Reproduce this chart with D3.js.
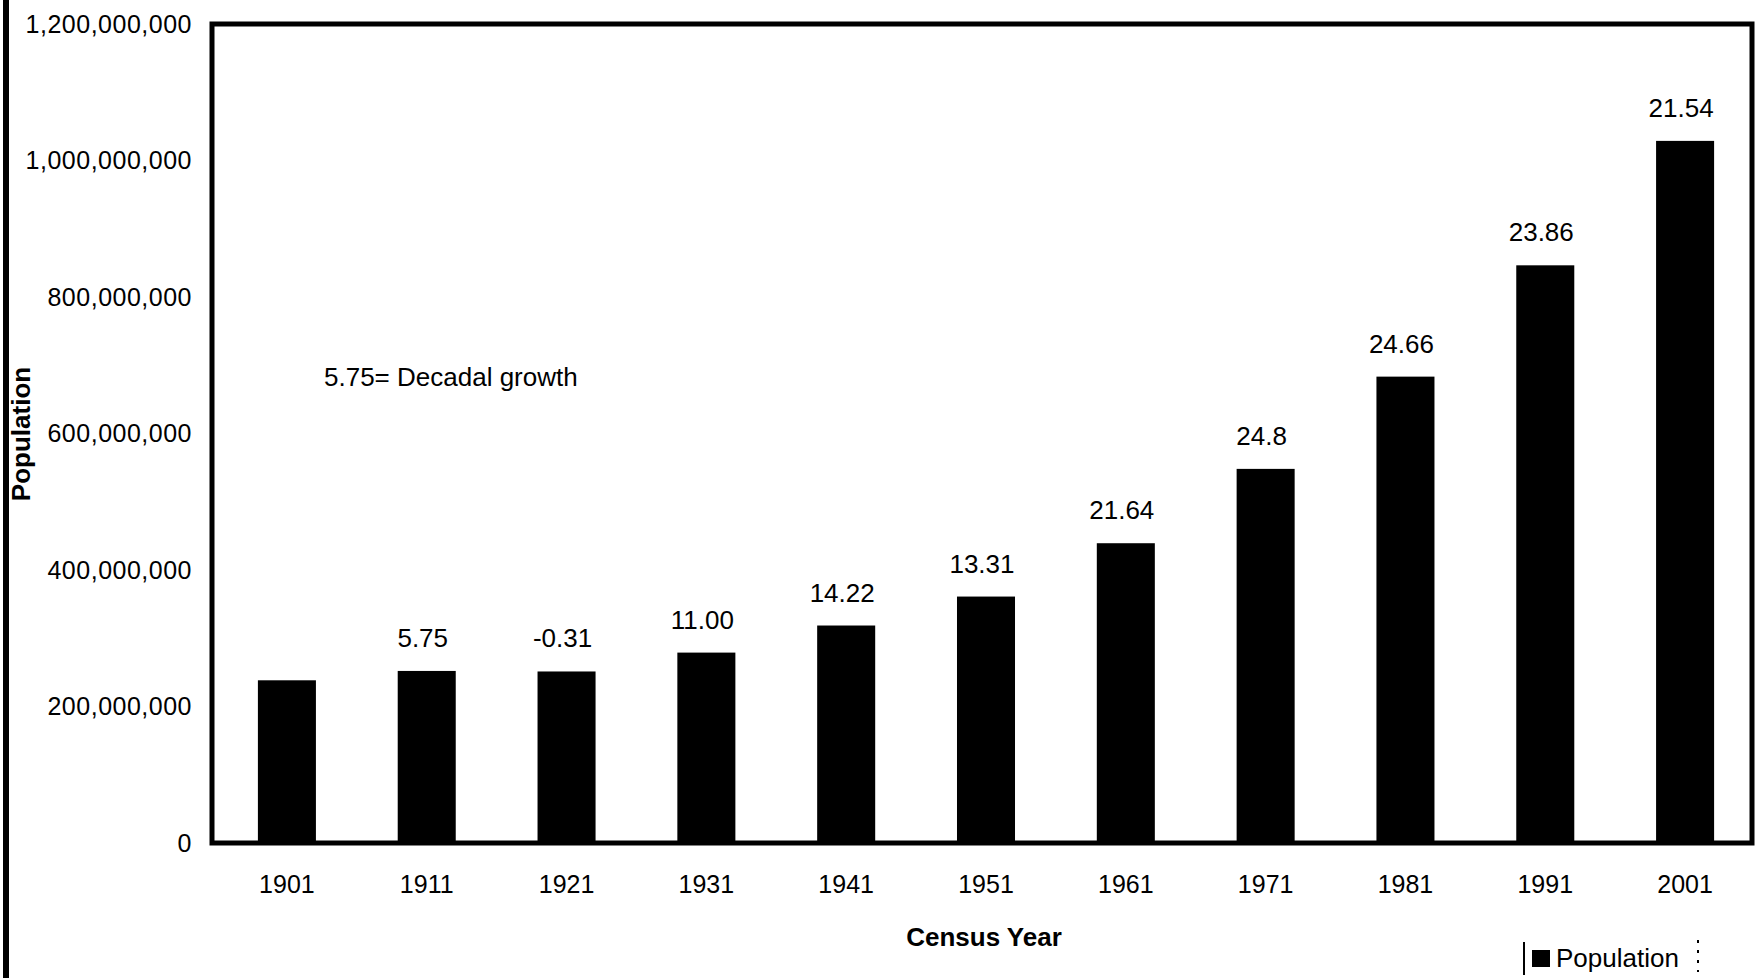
<!DOCTYPE html>
<html>
<head>
<meta charset="utf-8">
<script src="https://cdn.jsdelivr.net/npm/d3@7"></script>
<style>
  body { margin: 0; background: #fff; }
  svg text { font-family: "Liberation Sans", Arial, sans-serif; fill: #000; }
</style>
</head>
<body>
<svg width="1756" height="978"></svg>
<script>
// census years and population (India), decadal growth shown above bars
var years = ["1901", "1911", "1921", "1931", "1941", "1951", "1961", "1971", "1981", "1991", "2001"];
var population = [238396327, 252093390, 251321213, 278977238, 318660580, 361088090,
                  439234771, 548159652, 683329097, 846421039, 1028737436];
var growth = ["", "5.75", "-0.31", "11.00", "14.22", "13.31", "21.64", "24.8", "24.66", "23.86", "21.54"];
var yTicks = [0, 200000000, 400000000, 600000000, 800000000, 1000000000, 1200000000];

var svg = d3.select("svg"),
    plotLeft = 212, plotRight = 1752, plotTop = 24, plotBottom = 843;

var x = d3.scaleBand()
    .domain(years)
    .range([217, 1755])
    .paddingInner(0.585)
    .paddingOuter(0.2925);

var y = d3.scaleLinear()
    .domain([0, 1200000000])
    .range([plotBottom, plotTop]);

// thick line on the far left of the scan
svg.append("line")
    .attr("x1", 6).attr("x2", 6)
    .attr("y1", 0).attr("y2", 978)
    .attr("stroke", "#000")
    .attr("stroke-width", 6);

// bars
svg.append("g")
    .selectAll("rect")
    .data(population)
    .enter().append("rect")
    .attr("x", function (d, i) { return x(years[i]); })
    .attr("y", function (d) { return y(d); })
    .attr("width", x.bandwidth())
    .attr("height", function (d) { return y(0) - y(d); })
    .attr("fill", "#000");

// plot frame
svg.append("rect")
    .attr("x", plotLeft).attr("y", plotTop)
    .attr("width", plotRight - plotLeft).attr("height", plotBottom - plotTop)
    .attr("fill", "none")
    .attr("stroke", "#000")
    .attr("stroke-width", 5);

// y axis
var yAxis = svg.append("g")
    .attr("transform", "translate(" + plotLeft + ",0)")
    .call(d3.axisLeft(y).tickValues(yTicks).tickSize(0).tickPadding(20).tickFormat(d3.format(",")));
yAxis.select(".domain").remove();
yAxis.selectAll("text")
    .style("font-size", "25px")
    .style("letter-spacing", "0.5px");

// x axis
var xAxis = svg.append("g")
    .attr("transform", "translate(0," + plotBottom + ")")
    .call(d3.axisBottom(x).tickSize(0).tickPadding(32));
xAxis.select(".domain").remove();
xAxis.selectAll("text").style("font-size", "25px");

// growth labels
svg.append("g")
    .selectAll("text")
    .data(growth)
    .enter().append("text")
    .attr("x", function (d, i) { return x(years[i]) + x.bandwidth() / 2 - 4; })
    .attr("y", function (d, i) { return y(population[i]) - 24; })
    .attr("text-anchor", "middle")
    .style("font-size", "26px")
    .text(function (d) { return d; });

// note
svg.append("text")
    .attr("x", 324)
    .attr("y", 386)
    .style("font-size", "26px")
    .text("5.75= Decadal growth");

// axis titles
svg.append("text")
    .attr("x", 984)
    .attr("y", 946)
    .attr("text-anchor", "middle")
    .style("font-size", "26px")
    .style("font-weight", "bold")
    .text("Census Year");

svg.append("text")
    .attr("transform", "translate(30,434) rotate(-90)")
    .attr("text-anchor", "middle")
    .style("font-size", "26px")
    .style("font-weight", "bold")
    .text("Population");

// legend
var legend = svg.append("g");
legend.append("line")
    .attr("x1", 1524).attr("x2", 1524)
    .attr("y1", 942).attr("y2", 975)
    .attr("stroke", "#000").attr("stroke-width", 2);
legend.append("line")
    .attr("x1", 1698).attr("x2", 1698)
    .attr("y1", 940).attr("y2", 972)
    .attr("stroke", "#000").attr("stroke-width", 2)
    .attr("stroke-dasharray", "3,7");
legend.append("rect")
    .attr("x", 1532).attr("y", 950)
    .attr("width", 18).attr("height", 17)
    .attr("fill", "#000");
legend.append("text")
    .attr("x", 1556)
    .attr("y", 967)
    .style("font-size", "26px")
    .text("Population");
</script>
</body>
</html>
